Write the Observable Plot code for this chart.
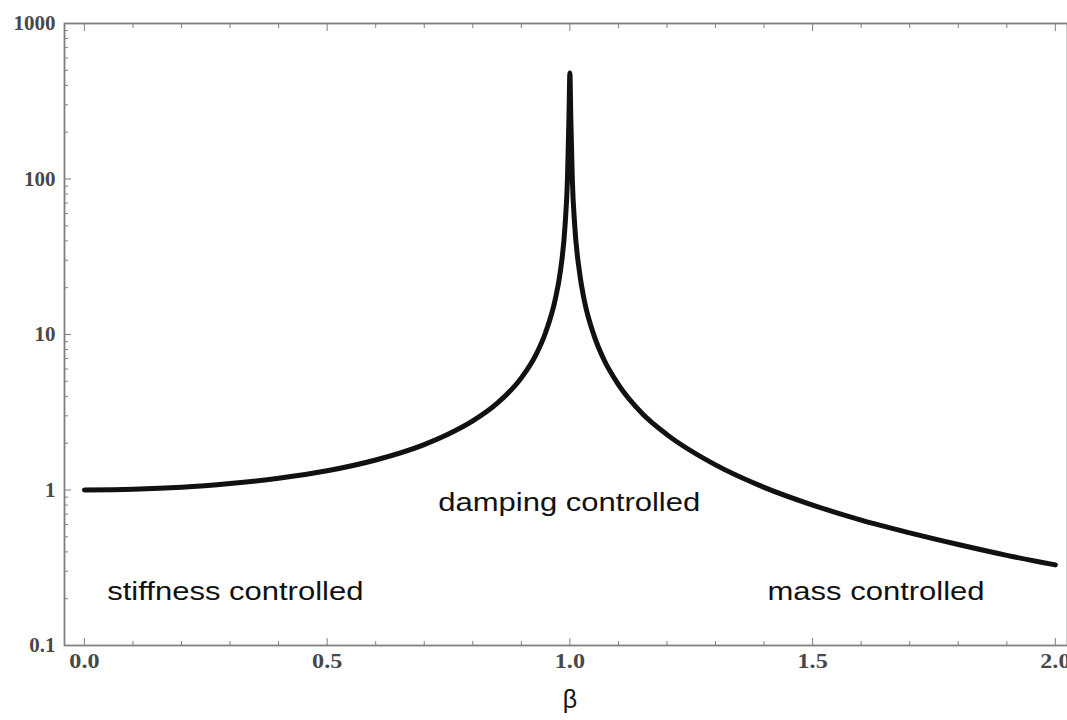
<!DOCTYPE html>
<html>
<head>
<meta charset="utf-8">
<script src="https://cdn.jsdelivr.net/npm/d3@7"></script>
<script src="https://cdn.jsdelivr.net/npm/@observablehq/plot@0.6"></script>
<style>
  html, body { margin: 0; padding: 0; background: #fff; }
  #chart svg { display: block; }
</style>
</head>
<body>
<div id="chart"></div>
<script>
// Frequency ratio β and response amplitude
const beta = [0, 0.1, 0.2, 0.3, 0.4, 0.5, 0.6, 0.7, 0.75, 0.8, 0.85, 0.9, 0.93, 0.95, 0.97, 0.98, 0.99, 0.995, 0.998, 1.0,
              1.002, 1.005, 1.01, 1.02, 1.03, 1.05, 1.07, 1.1, 1.15, 1.2, 1.3, 1.4, 1.5, 1.6, 1.7, 1.8, 1.9, 2.0];
const amplitude = [1.0, 1.01, 1.04, 1.10, 1.19, 1.33, 1.56, 1.96, 2.29, 2.78, 3.6, 5.26, 7.4, 10.3, 16.9, 25, 50, 100, 240, 480,
                   240, 100, 50, 25, 16.4, 9.8, 6.9, 4.76, 3.08, 2.27, 1.45, 1.04, 0.8, 0.64, 0.53, 0.446, 0.38, 0.33];

// Axis ticks
const xMajor = [0, 0.5, 1.0, 1.5, 2.0];
const xTickLabels = ["0.0", "0.5", "1.0", "1.5", "2.0"];
const xMinor = [0.1, 0.2, 0.3, 0.4, 0.6, 0.7, 0.8, 0.9, 1.1, 1.2, 1.3, 1.4, 1.6, 1.7, 1.8, 1.9];
const yMajor = [0.1, 1, 10, 100, 1000];
const yTickLabels = ["0.1", "1", "10", "100", "1000"];
const yMinor = [0.2, 0.3, 0.4, 0.5, 0.6, 0.7, 0.8, 0.9, 2, 3, 4, 5, 6, 7, 8, 9,
                20, 30, 40, 50, 60, 70, 80, 90, 200, 300, 400, 500, 600, 700, 800, 900];

// Region annotations (left edge of each text)
const regionText = ["stiffness controlled", "damping controlled", "mass controlled"];
const regionBeta = [0.047, 0.729, 1.407];
const regionAmp = [0.22, 0.825, 0.22];

const xTitle = "β";
const xTitleAt = [1.0];

const data = beta.map((b, i) => ({b, a: amplitude[i]}));
const regions = regionText.map((t, i) => ({t, b: regionBeta[i], a: regionAmp[i]}));

const axisColor = "#808080";
const serif = "Liberation Serif";
const sans = "Liberation Sans";
const labelFill = "#484848";

const chart = Plot.plot({
  width: 1067,
  height: 720,
  marginTop: 23,
  marginBottom: 75,
  marginLeft: 64,
  marginRight: 0,
  x: {domain: [-0.041, 2.025], label: null},
  y: {type: "log", domain: [0.1, 1000], label: null},
  style: {background: "#fff"},
  marks: [
    Plot.frame({stroke: axisColor, strokeWidth: 1.8}),
    // bottom ticks (inward)
    Plot.axisX({anchor: "bottom", ticks: xMajor, tickSize: -7, tickFormat: () => "", stroke: axisColor, label: null}),
    Plot.axisX({anchor: "bottom", ticks: xMinor, tickSize: -4, tickFormat: () => "", stroke: axisColor, label: null}),
    // top ticks (inward)
    Plot.axisX({anchor: "top", ticks: xMajor, tickSize: -7, tickFormat: () => "", stroke: axisColor, label: null}),
    Plot.axisX({anchor: "top", ticks: xMinor, tickSize: -4, tickFormat: () => "", stroke: axisColor, label: null}),
    // left ticks (inward)
    Plot.axisY({anchor: "left", ticks: yMajor, tickSize: -7, tickFormat: () => "", stroke: axisColor, label: null}),
    Plot.axisY({anchor: "left", ticks: yMinor, tickSize: -4, tickFormat: () => "", stroke: axisColor, label: null}),
    // tick labels
    Plot.axisX({anchor: "bottom", ticks: xMajor, tickSize: 0, tickPadding: 8,
                tickFormat: (d) => xTickLabels[xMajor.indexOf(d)],
                fontFamily: serif, fontSize: 21, fontWeight: "bold", fill: labelFill, label: null}),
    Plot.axisY({anchor: "left", ticks: yMajor, tickSize: 0, tickPadding: 9,
                tickFormat: (d) => yTickLabels[yMajor.indexOf(d)],
                fontFamily: serif, fontSize: 21, fontWeight: "bold", fill: labelFill, label: null}),
    // curve
    Plot.line(data, {x: "b", y: "a", stroke: "#111", strokeWidth: 5, curve: "monotone-x"}),
    // annotations
    Plot.text(regions, {x: "b", y: "a", text: "t", textAnchor: "start", fontFamily: sans, fontSize: 25, fill: "#111"}),
    Plot.text(xTitleAt, {x: d => d, frameAnchor: "bottom", dy: 62, text: () => xTitle, fontFamily: sans, fontSize: 25, fill: "#111"})
  ]
});
document.getElementById("chart").appendChild(chart);

// The reference lettering is horizontally wide: stretch the annotation and x tick texts
d3.select(chart).selectAll("text").each(function() {
  const t = this.textContent;
  let k = 0;
  if (regionText.includes(t)) k = 1.24;
  else if (xTickLabels.includes(t)) k = 1.15;
  if (k) {
    const w = this.getComputedTextLength();
    this.setAttribute("textLength", (w * k).toFixed(1));
    this.setAttribute("lengthAdjust", "spacingAndGlyphs");
  }
});
</script>
</body>
</html>
